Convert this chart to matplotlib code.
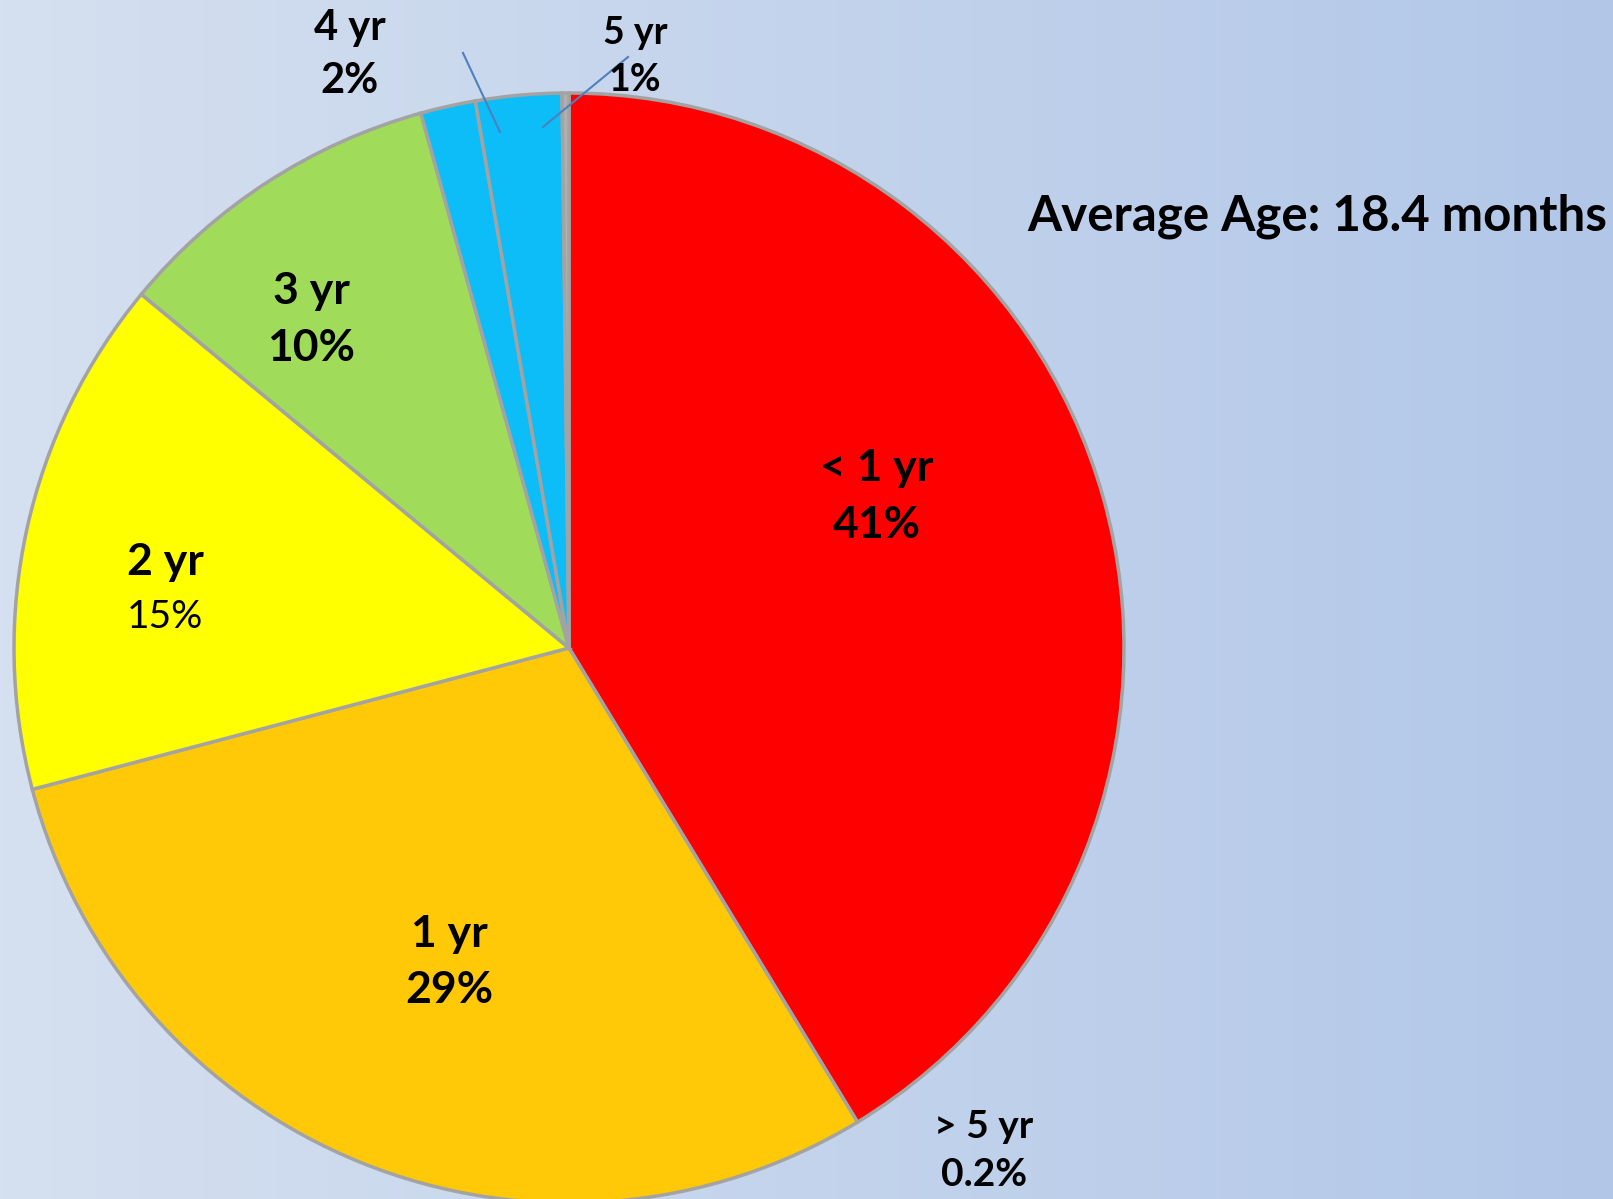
import numpy as np
import matplotlib.pyplot as plt

# slice data, clockwise from 12 o'clock (sizes)
categories = ["< 1 yr", "1 yr", "2 yr", "3 yr", "4 yr", "5 yr", "> 5 yr"]
shares = [41.3, 29.6, 15.1, 9.7, 1.6, 2.5, 0.2]
pct_labels = ["41%", "29%", "15%", "10%", "2%", "1%", "0.2%"]
colors = ["#fe0000", "#ffc907", "#ffff00", "#a0dc5a", "#0dbdf8", "#0dbdf8", "#b0b0b0"]

W, H = 1613, 1199
fig = plt.figure(figsize=(W / 100, H / 100), dpi=100)
ax = fig.add_axes([0, 0, 1, 1])

# background gradient
grad = np.linspace(0, 1, 256).reshape(1, -1)
left = np.array([213, 224, 240]) / 255
right = np.array([178, 199, 232]) / 255
img = left + (right - left) * grad[..., None]
ax.imshow(img, extent=[0, W, 0, H], aspect="auto", zorder=0)

cx, cy, r = 569, H - 648, 555
wedges, _ = ax.pie(shares, colors=colors, startangle=90, counterclock=False,
                   center=(cx, cy), radius=r, frame=True,
                   wedgeprops=dict(edgecolor="#a3a3a3", linewidth=2.5))
for w in wedges:
    w.set_zorder(2)
ax.set_xlim(0, W)
ax.set_ylim(0, H)
ax.set_aspect("auto")
ax.axis("off")

font = "Lato"

def lab(x, y, s, size, bold=True):
    ax.text(x, H - y, s, ha="center", va="center", fontsize=size,
            fontweight="bold" if bold else "normal", family=font, zorder=5)

# slice labels (pixel positions of label centres)
lab(877, 468, categories[0], 32); lab(877, 525, pct_labels[0], 32)
lab(449, 934, categories[1], 32); lab(449, 990, pct_labels[1], 32)
lab(165, 562, categories[2], 32); lab(165, 617, pct_labels[2], 28, bold=False)
lab(311, 291, categories[3], 32); lab(311, 348, pct_labels[3], 32)
lab(350, 28, categories[4], 30); lab(350, 81, pct_labels[4], 30)
lab(635, 33, categories[5], 27); lab(635, 80, pct_labels[5], 27)
lab(984, 1126, categories[6], 28); lab(984, 1175, pct_labels[6], 28)

# leader lines
ax.plot([463, 500], [H - 53, H - 132], color="#4f7fbf", lw=1.5, zorder=4)
ax.plot([628, 543], [H - 57, H - 127], color="#4f7fbf", lw=1.5, zorder=4)

ax.text(1607, H - 216, "Average Age: 18.4 months", ha="right", va="center",
        fontsize=35.5, fontweight="bold", family=font, zorder=5)

fig.savefig("out.png", dpi=100)
